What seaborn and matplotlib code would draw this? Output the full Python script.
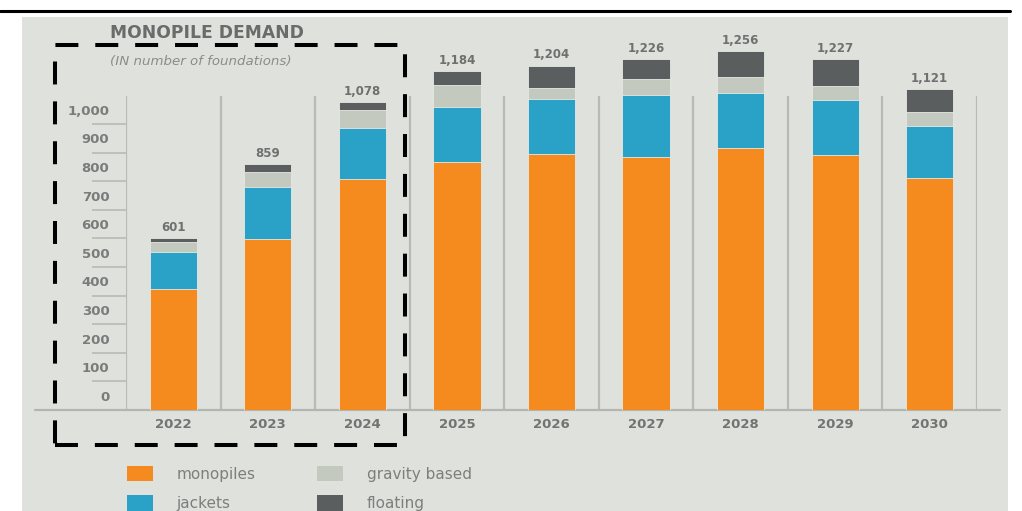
import numpy as np
import matplotlib
matplotlib.use("Agg")
import matplotlib.pyplot as plt
from matplotlib.patches import Rectangle, Patch
from matplotlib.lines import Line2D
import seaborn as sns

# Foundation demand per year, split by foundation type
years = ["2022", "2023", "2024", "2025", "2026", "2027", "2028", "2029", "2030"]
monopiles = [423, 597, 808, 866, 894, 886, 915, 892, 812]
jackets = [129, 184, 179, 194, 193, 215, 192, 191, 182]
gravity_based = [35, 52, 62, 76, 38, 56, 56, 51, 49]
floating = [14, 26, 29, 48, 79, 69, 93, 93, 78]

series_names = ["monopiles", "jackets", "gravity based", "floating"]
series_colors = ["#f58b1f", "#2aa2c7", "#c3c9bf", "#5a5e5f"]

y_tick_values = [0, 100, 200, 300, 400, 500, 600, 700, 800, 900, 1000]

sns.set_theme(style="white")
plt.rcParams["font.family"] = ["DejaVu Sans"]

W, H = 1022, 511
fig = plt.figure(figsize=(W / 100, H / 100), dpi=100, facecolor="white")

# background panel and black rule above it
fig.patches.append(Rectangle((22 / W, 0), 986 / W, (H - 17) / H,
                             transform=fig.transFigure, facecolor="#dfe2dc",
                             edgecolor="none", zorder=-10))
fig.lines.append(Line2D([0, 1010 / W], [1 - 11 / H, 1 - 11 / H],
                        transform=fig.transFigure, color="black", lw=2.2,
                        zorder=-5))

# plotting area: baseline at 410 px, 0.286 px per foundation
ax = fig.add_axes([126 / W, 101 / H, 851 / W, 394 / H])
ax.set_facecolor("none")
ax.set_zorder(1)

stack = np.array([monopiles, jackets, gravity_based, floating], dtype=float)
cumulative = np.cumsum(stack, axis=0)
totals = cumulative[-1].astype(int)

# draw the stacks from the tallest layer down so each segment sits on the one below
for level in range(3, -1, -1):
    sns.barplot(x=years, y=cumulative[level], color=series_colors[level],
                width=0.5, saturation=1, errorbar=None, ax=ax,
                edgecolor="#e6e9e3", linewidth=0.6, zorder=3)

ax.bar_label(ax.containers[0], labels=[f"{t:,}" for t in totals], padding=3,
             fontsize=8.5, fontweight="bold", color="#6f7070")

ax.set_xlim(-0.5, len(years) - 0.5)
ax.set_ylim(0, 394 / 0.286)

# separators between year columns
ax.vlines(np.arange(-0.5, len(years)), 0, 1098, color="#b8bbb5", lw=1.6, zorder=1)
# baseline
ax.axhline(0, xmin=-0.107, xmax=1.027, color="#b3b6b0", lw=1.6, clip_on=False, zorder=2)

for s in ax.spines.values():
    s.set_visible(False)

# short tick lines at each hundred, labels sitting inside each band
ax.set_yticks([v + 50 for v in y_tick_values])
ax.set_yticklabels([f"{v:,}" for v in y_tick_values])
ax.set_yticks(y_tick_values[1:], minor=True)
ax.tick_params(axis="y", which="major", length=0, pad=12, labelsize=9.5,
               labelcolor="#7a7b7b")
ax.tick_params(axis="y", which="minor", left=True, length=24.5, width=1.2,
               color="#b8bbb5", direction="out")
for lab in ax.get_yticklabels():
    lab.set_fontweight("bold")

ax.set_xlabel("")
ax.set_ylabel("")
ax.tick_params(axis="x", length=0, pad=6, labelsize=9.5, labelcolor="#727373")
for lab in ax.get_xticklabels():
    lab.set_fontweight("bold")
ax.grid(False)

# headings
fig.text(110 / W, 1 - 33 / H, "MONOPILE DEMAND", fontsize=12.3, fontweight="bold",
         color="#6a6b6b", va="center", ha="left")
fig.text(110 / W, 1 - 62 / H, "(IN number of foundations)", fontsize=9.6,
         style="italic", color="#8b8c8b", va="center", ha="left")

# dashed highlight box around the first three years
fig.patches.append(Rectangle((55 / W, 1 - 444.5 / H), 349.5 / W, 399 / H,
                             transform=fig.transFigure, facecolor="none",
                             edgecolor="black", lw=2.9,
                             linestyle=(0, (5.7, 4.2)), zorder=5))

handles = [Patch(facecolor=c, edgecolor="none") for c in series_colors]
fig.legend(handles, series_names, ncol=2, loc="upper left",
           bbox_to_anchor=(119 / W, 1 - 458 / H), frameon=False, borderpad=0,
           fontsize=11, labelcolor="#7d7e7e", handlelength=1.7, handleheight=1.2,
           handletextpad=1.55, labelspacing=0.9, columnspacing=4.05)

fig.savefig("out.png", dpi=100, facecolor="white")
